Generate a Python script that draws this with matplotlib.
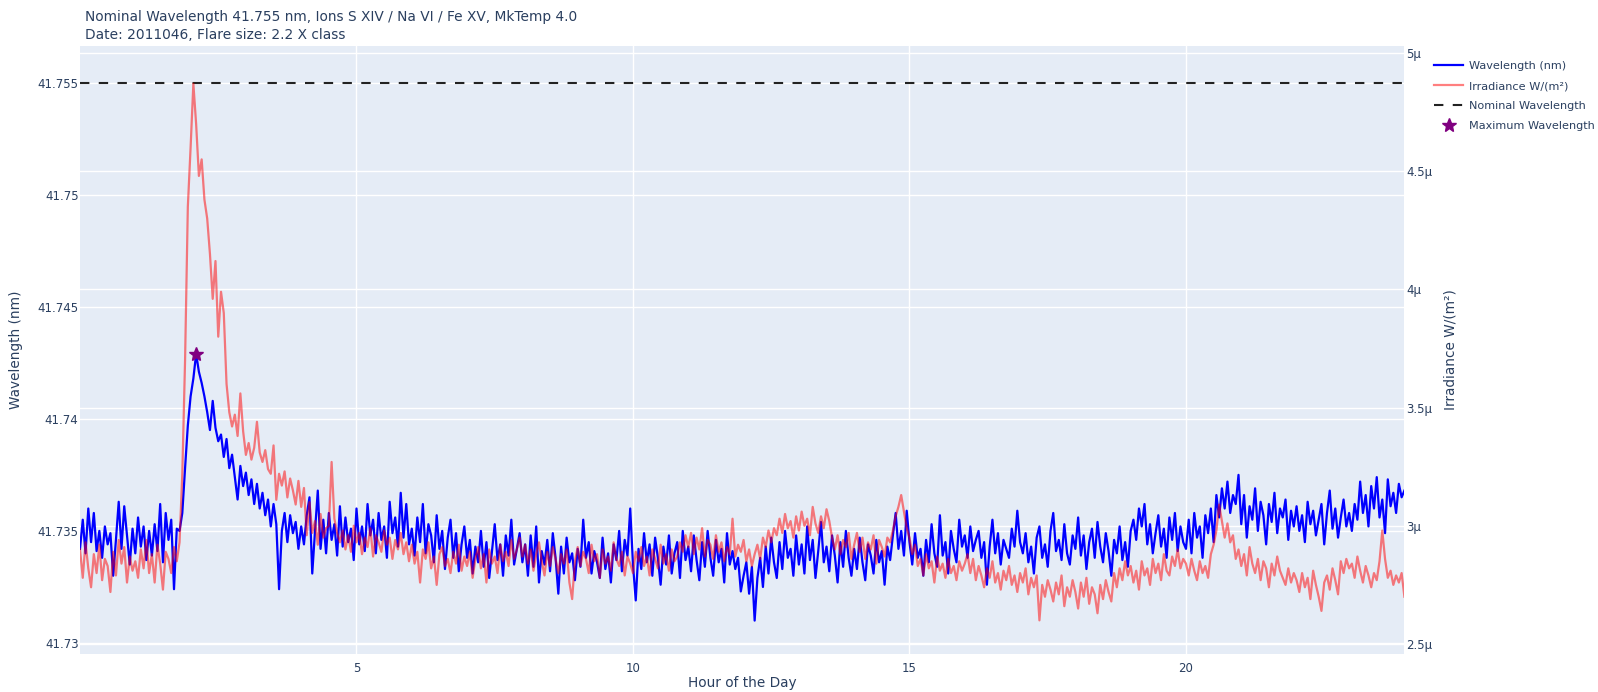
import numpy as np
import matplotlib
matplotlib.use("Agg")
import matplotlib.pyplot as plt
from matplotlib.lines import Line2D
from matplotlib.ticker import FuncFormatter, FixedLocator
from matplotlib.transforms import blended_transform_factory

# ---- data -----------------------------------------------------------------
CADENCE_MIN = 3  # one sample every 3 minutes

title_lines = [
    "Nominal Wavelength 41.755 nm, Ions S XIV / Na VI / Fe XV, MkTemp 4.0",
    "Date: 2011046, Flare size: 2.2 X class",
]
nominal_wavelength = 41.755

# fitted line-centre wavelength (nm), two rows per hour
wavelength_nm = [
    41.7342, 41.7355, 41.7340, 41.7360, 41.7345, 41.7358, 41.7341, 41.7350, 41.7338, 41.7352,
    41.7344, 41.7349, 41.7330, 41.7346, 41.7363, 41.7342, 41.7361, 41.7348, 41.7335, 41.7351,
    41.7340, 41.7356, 41.7343, 41.7352, 41.7337, 41.7350, 41.7339, 41.7353, 41.7341, 41.7362,
    41.7336, 41.7358, 41.7346, 41.7355, 41.7324, 41.7351, 41.7350, 41.7358, 41.7378, 41.7397,
    41.7410, 41.7418, 41.7429, 41.7421, 41.7416, 41.7410, 41.7403, 41.7395, 41.7408, 41.7396,
    41.7390, 41.7393, 41.7383, 41.7391, 41.7378, 41.7384, 41.7374, 41.7364, 41.7379, 41.7370,
    41.7376, 41.7366, 41.7373, 41.7362, 41.7371, 41.7360, 41.7367, 41.7357, 41.7364, 41.7352,
    41.7362, 41.7353, 41.7324, 41.7350, 41.7358, 41.7345, 41.7357, 41.7349, 41.7354, 41.7342,
    41.7352, 41.7344, 41.7357, 41.7365, 41.7331, 41.7350, 41.7368, 41.7342, 41.7355, 41.7340,
    41.7358, 41.7346, 41.7353, 41.7339, 41.7361, 41.7343, 41.7356, 41.7345, 41.7351, 41.7337,
    41.7360, 41.7344, 41.7352, 41.7341, 41.7362, 41.7348, 41.7355, 41.7340, 41.7358, 41.7346,
    41.7352, 41.7338, 41.7363, 41.7349, 41.7356, 41.7343, 41.7367, 41.7347, 41.7362, 41.7344,
    41.7351, 41.7339, 41.7356, 41.7345, 41.7362, 41.7340, 41.7353, 41.7348, 41.7336, 41.7357,
    41.7342, 41.7350, 41.7333, 41.7347, 41.7355, 41.7338, 41.7349, 41.7332, 41.7344, 41.7352,
    41.7338, 41.7346, 41.7331, 41.7343, 41.7336, 41.7350, 41.7334, 41.7345, 41.7329, 41.7341,
    41.7353, 41.7337, 41.7344, 41.7330, 41.7348, 41.7339, 41.7355, 41.7335, 41.7342, 41.7349,
    41.7336, 41.7344, 41.7330, 41.7348, 41.7334, 41.7352, 41.7327, 41.7341, 41.7335, 41.7346,
    41.7332, 41.7349, 41.7338, 41.7322, 41.7343, 41.7331, 41.7347, 41.7336, 41.7340, 41.7328,
    41.7342, 41.7334, 41.7355, 41.7338, 41.7345, 41.7331, 41.7341, 41.7336, 41.7329, 41.7347,
    41.7333, 41.7340, 41.7327, 41.7344, 41.7337, 41.7350, 41.7332, 41.7346, 41.7339, 41.7360,
    41.7335, 41.7319, 41.7342, 41.7333, 41.7349, 41.7336, 41.7344, 41.7330, 41.7347, 41.7338,
    41.7326, 41.7343, 41.7335, 41.7348, 41.7331, 41.7340, 41.7345, 41.7329, 41.7350, 41.7337,
    41.7343, 41.7332, 41.7348, 41.7337, 41.7328, 41.7345, 41.7334, 41.7350, 41.7338, 41.7330,
    41.7346, 41.7336, 41.7342, 41.7327, 41.7349, 41.7335, 41.7341, 41.7333, 41.7338, 41.7323,
    41.7330, 41.7336, 41.7322, 41.7334, 41.7310, 41.7329, 41.7338, 41.7325, 41.7343, 41.7331,
    41.7347, 41.7336, 41.7329, 41.7345, 41.7333, 41.7350, 41.7338, 41.7342, 41.7330, 41.7348,
    41.7335, 41.7344, 41.7331, 41.7352, 41.7337, 41.7346, 41.7329, 41.7341, 41.7354, 41.7336,
    41.7343, 41.7332, 41.7348, 41.7339, 41.7327, 41.7345, 41.7334, 41.7350, 41.7338, 41.7330,
    41.7342, 41.7333, 41.7347, 41.7336, 41.7328, 41.7344, 41.7339, 41.7331, 41.7346, 41.7336,
    41.7341, 41.7326, 41.7343, 41.7337, 41.7348, 41.7358, 41.7342, 41.7350, 41.7339, 41.7359,
    41.7345, 41.7335, 41.7349, 41.7338, 41.7342, 41.7330, 41.7346, 41.7336, 41.7353, 41.7340,
    41.7334, 41.7357, 41.7339, 41.7345, 41.7331, 41.7350, 41.7342, 41.7336, 41.7355, 41.7343,
    41.7348, 41.7338, 41.7352, 41.7341, 41.7346, 41.7350, 41.7338, 41.7345, 41.7326, 41.7343,
    41.7355, 41.7340, 41.7349, 41.7335, 41.7346, 41.7342, 41.7338, 41.7351, 41.7343, 41.7359,
    41.7345, 41.7340, 41.7349, 41.7336, 41.7343, 41.7331, 41.7347, 41.7352, 41.7338, 41.7344,
    41.7334, 41.7350, 41.7358, 41.7341, 41.7346, 41.7337, 41.7353, 41.7340, 41.7335, 41.7348,
    41.7342, 41.7356, 41.7339, 41.7348, 41.7333, 41.7345, 41.7351, 41.7338, 41.7354, 41.7343,
    41.7336, 41.7349, 41.7341, 41.7330, 41.7346, 41.7340, 41.7352, 41.7337, 41.7345, 41.7334,
    41.7350, 41.7355, 41.7346, 41.7360, 41.7352, 41.7362, 41.7344, 41.7353, 41.7340, 41.7349,
    41.7357, 41.7343, 41.7351, 41.7338, 41.7356, 41.7346, 41.7358, 41.7341, 41.7352, 41.7345,
    41.7342, 41.7355, 41.7340, 41.7358, 41.7347, 41.7352, 41.7338, 41.7357, 41.7349, 41.7360,
    41.7345, 41.7366, 41.7356, 41.7369, 41.7360, 41.7372, 41.7358, 41.7366, 41.7362, 41.7375,
    41.7353, 41.7366, 41.7347, 41.7361, 41.7355, 41.7369, 41.7350, 41.7363, 41.7357, 41.7344,
    41.7362, 41.7354, 41.7367, 41.7349, 41.7360, 41.7356, 41.7364, 41.7346, 41.7359, 41.7352,
    41.7361, 41.7350, 41.7357, 41.7345, 41.7363, 41.7353, 41.7359, 41.7348, 41.7355, 41.7362,
    41.7344, 41.7358, 41.7368, 41.7351, 41.7360, 41.7347, 41.7356, 41.7364, 41.7352, 41.7358,
    41.7350, 41.7362, 41.7355, 41.7372, 41.7358, 41.7366, 41.7352, 41.7370, 41.7360, 41.7374,
    41.7356, 41.7364, 41.7349, 41.7373, 41.7361, 41.7367, 41.7358, 41.7371, 41.7365, 41.7368,
]

# line irradiance in micro-W/m^2, one row per hour
irradiance_uw = [
    2.90, 2.78, 2.93, 2.82, 2.74, 2.88, 2.80, 2.92, 2.77, 2.86, 2.83, 2.72, 2.89, 2.79, 2.94, 2.84, 2.91, 2.76, 2.87, 2.81,
    2.85, 2.78, 2.90, 2.82, 2.94, 2.80, 2.88, 2.76, 2.92, 2.84, 2.73, 2.89, 2.86, 2.80, 2.91, 2.85, 2.93, 3.22, 3.70, 4.35,
    4.60, 4.87, 4.70, 4.48, 4.55, 4.38, 4.30, 4.15, 3.96, 4.12, 3.80, 3.99, 3.90, 3.60, 3.48, 3.42, 3.47, 3.38, 3.56, 3.40,
    3.30, 3.35, 3.28, 3.33, 3.44, 3.31, 3.27, 3.32, 3.24, 3.22, 3.34, 3.11, 3.22, 3.17, 3.23, 3.12, 3.20, 3.15, 3.09, 3.19,
    3.08, 3.16, 2.96, 3.10, 2.97, 3.02, 2.92, 3.05, 2.95, 2.99, 3.00, 3.27, 3.03, 2.97, 2.93, 2.98, 2.90, 2.96, 2.89, 3.00,
    2.93, 2.97, 2.88, 2.95, 2.91, 2.99, 2.87, 2.96, 2.93, 2.89, 2.98, 2.92, 2.95, 2.86, 2.94, 2.90, 2.97, 2.88, 2.93, 2.85,
    2.92, 2.84, 2.89, 2.76, 2.90, 2.86, 2.93, 2.82, 2.87, 2.75, 2.88, 2.91, 2.83, 2.86, 2.80, 2.89, 2.84, 2.92, 2.81, 2.87,
    2.83, 2.89, 2.78, 2.86, 2.91, 2.82, 2.88, 2.76, 2.90, 2.84, 2.87, 2.80, 2.92, 2.85, 2.89, 2.83, 2.94, 2.86, 2.90, 2.95,
    2.87, 2.92, 2.84, 2.90, 2.81, 2.88, 2.93, 2.85, 2.79, 2.89, 2.83, 2.91, 2.86, 2.80, 2.88, 2.84, 2.90, 2.76, 2.69, 2.85,
    2.91, 2.83, 2.89, 2.86, 2.80, 2.92, 2.85, 2.88, 2.78, 2.90, 2.84, 2.87, 2.81, 2.93, 2.86, 2.83, 2.89, 2.79, 2.87, 2.84,
    2.80, 2.89, 2.85, 2.91, 2.83, 2.87, 2.79, 2.90, 2.86, 2.82, 2.92, 2.84, 2.88, 2.81, 2.90, 2.85, 2.87, 2.93, 2.89, 2.96,
    2.91, 2.97, 2.88, 2.95, 2.90, 2.99, 2.87, 2.94, 2.92, 2.86, 2.96, 2.89, 2.93, 2.85, 2.91, 2.88, 3.03, 2.87, 2.92, 2.89,
    2.94, 2.85, 2.90, 2.83, 2.88, 2.92, 2.86, 2.95, 2.91, 2.98, 2.93, 2.99, 2.96, 3.03, 2.97, 3.05, 2.99, 3.02, 2.95, 3.04,
    2.98, 3.06, 3.00, 3.03, 2.96, 3.08, 3.01, 2.97, 3.04, 2.99, 3.07, 3.02, 2.95, 2.90, 2.96, 2.88, 2.94, 2.91, 2.97, 2.86,
    2.92, 2.97, 2.89, 2.95, 2.86, 2.93, 2.90, 2.96, 2.84, 2.94, 2.91, 2.87, 2.95, 2.93, 2.98, 3.04, 3.08, 3.13, 3.06, 2.99,
    2.95, 2.88, 2.92, 2.83, 2.86, 2.79, 2.88, 2.82, 2.85, 2.76, 2.87, 2.81, 2.84, 2.78, 2.86, 2.80, 2.83, 2.77, 2.85, 2.81,
    2.84, 2.88, 2.80, 2.86, 2.77, 2.83, 2.79, 2.74, 2.82, 2.78, 2.85, 2.76, 2.80, 2.73, 2.81, 2.77, 2.83, 2.75, 2.79, 2.72,
    2.80, 2.76, 2.82, 2.71, 2.78, 2.74, 2.79, 2.60, 2.75, 2.70, 2.77, 2.73, 2.68, 2.76, 2.71, 2.79, 2.66, 2.74, 2.70, 2.77,
    2.72, 2.65, 2.76, 2.70, 2.78, 2.67, 2.74, 2.71, 2.63, 2.75, 2.69, 2.77, 2.72, 2.68, 2.80, 2.74, 2.82, 2.77, 2.85, 2.79,
    2.83, 2.76, 2.81, 2.73, 2.85, 2.79, 2.82, 2.75, 2.86, 2.80, 2.84, 2.77, 2.88, 2.81, 2.79, 2.87, 2.83, 2.90, 2.82, 2.86,
    2.84, 2.79, 2.86, 2.81, 2.77, 2.85, 2.80, 2.83, 2.78, 2.88, 2.92, 2.98, 3.09, 3.02, 2.95, 3.01, 2.93, 2.96, 2.86, 2.90,
    2.83, 2.88, 2.79, 2.91, 2.84, 2.80, 2.86, 2.77, 2.85, 2.82, 2.74, 2.84, 2.79, 2.87, 2.81, 2.78, 2.75, 2.82, 2.76, 2.80,
    2.77, 2.72, 2.80, 2.74, 2.78, 2.69, 2.81, 2.75, 2.70, 2.64, 2.76, 2.79, 2.73, 2.82, 2.77, 2.71, 2.85, 2.80, 2.86, 2.82,
    2.84, 2.78, 2.87, 2.81, 2.76, 2.83, 2.79, 2.74, 2.80, 2.77, 2.85, 2.98, 2.86, 2.78, 2.81, 2.75, 2.79, 2.76, 2.80, 2.70,
]

x_ticks = [5, 10, 15, 20]
left_ticks = [41.73, 41.735, 41.74, 41.745, 41.75, 41.755]
right_ticks_uw = [2.5, 3.0, 3.5, 4.0, 4.5, 5.0]

# ---- derived series ---------------------------------------------------------
wl = np.array(wavelength_nm)
irr = np.array(irradiance_uw) * 1e-6
hours_wl = np.arange(len(wl)) * CADENCE_MIN / 60.0
hours_irr = np.arange(len(irr)) * CADENCE_MIN / 60.0
i_max = int(np.argmax(wl))

# ---- styling ----------------------------------------------------------------
TXT = "#2a3f5f"
BG = "#E5ECF6"
W, H = 1598, 692

fig = plt.figure(figsize=(W / 100, H / 100), dpi=100)
left, right, top, bottom = 80, 1404.4, 46, 654
ax1 = fig.add_axes([left / W, 1 - bottom / H, (right - left) / W, (bottom - top) / H])
ax1.set_facecolor(BG)
ax2 = ax1.twinx()

ax1.set_xlim(hours_wl[0], hours_wl[-1])
ax1.set_ylim(41.72951, 41.75663)
ax2.set_ylim(2.4577e-6, 5.0296e-6)

for ax in (ax1, ax2):
    for s in ax.spines.values():
        s.set_visible(False)
    ax.tick_params(length=0, labelsize=8.5, labelcolor=TXT)

ax1.xaxis.set_major_locator(FixedLocator(x_ticks))
ax1.yaxis.set_major_locator(FixedLocator(left_ticks))
ax1.yaxis.set_major_formatter(FuncFormatter(lambda v, _: f"{v:.3f}".rstrip("0")))
ax1.tick_params(axis="y", pad=1)
ax1.tick_params(axis="x", pad=6)
ax2.yaxis.set_major_locator(FixedLocator([v * 1e-6 for v in right_ticks_uw]))
ax2.yaxis.set_major_formatter(FuncFormatter(lambda v, _: f"{v * 1e6:g}\u03bc"))
ax2.tick_params(axis="y", pad=1.5)

# grid lines for both y axes live below all traces
ax1.set_axisbelow(True)
ax1.grid(True, color="white", lw=1)
btf = blended_transform_factory(ax1.transAxes, ax2.transData)
for v in right_ticks_uw:
    ax1.add_line(Line2D([0, 1], [v * 1e-6] * 2, transform=btf, color="white", lw=1, zorder=0.6))

# traces
h_wl, = ax1.plot(hours_wl, wl, color="#0000ff", lw=1.6, zorder=2, label="Wavelength (nm)")
h_nom = ax1.axhline(nominal_wavelength, color="#222222", lw=1.5, dashes=(4.5, 4.5), zorder=3,
                    label="Nominal Wavelength")
h_max, = ax1.plot([hours_wl[i_max]], [wl[i_max]], ls="none", marker="*", ms=10,
                  color="#800080", zorder=4, label="Maximum Wavelength")
h_irr, = ax2.plot(hours_irr, irr, color="red", alpha=0.5, lw=1.6, zorder=2,
                  label="Irradiance W/(m\u00b2)")

# titles and axis labels
fig.text(85 / W, 1 - 17.5 / H, title_lines[0], color=TXT, fontsize=9.9, va="center", ha="left")
fig.text(85 / W, 1 - 35 / H, title_lines[1], color=TXT, fontsize=9.9, va="center", ha="left")
fig.text((left + right) / 2 / W, 1 - 683 / H, "Hour of the Day", color=TXT, fontsize=9.8,
         ha="center", va="center")
fig.text(15.8 / W, 1 - 350 / H, "Wavelength (nm)", color=TXT, fontsize=9.8, rotation=90,
         ha="center", va="center")
fig.text(1450 / W, 1 - 350 / H, "Irradiance W/(m\u00b2)", color=TXT, fontsize=9.8, rotation=90,
         ha="center", va="center")

leg = fig.legend(handles=[h_wl, h_irr, h_nom, h_max], loc="upper left",
                 bbox_to_anchor=(1434 / W, 1 - 61 / H), frameon=False, fontsize=8.1,
                 handlelength=2.6, handletextpad=0.5, labelspacing=0.9,
                 borderaxespad=0, borderpad=0)
for t in leg.get_texts():
    t.set_color(TXT)

fig.savefig("out.png", dpi=100, facecolor="white")
